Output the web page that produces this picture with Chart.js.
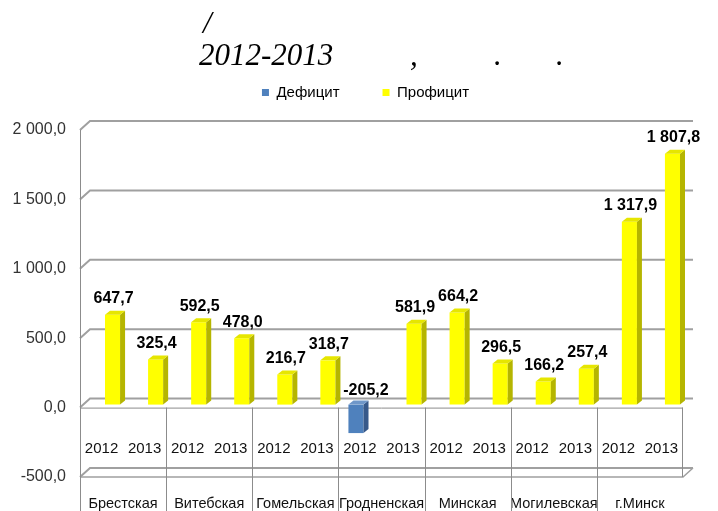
<!DOCTYPE html>
<html>
<head>
<meta charset="utf-8">
<script src="https://cdn.jsdelivr.net/npm/chart.js@4/dist/chart.umd.min.js"></script>
<style>
  html, body { margin: 0; padding: 0; background: #fff; }
  #wrap { width: 718px; height: 511px; }
</style>
</head>
<body>
<div id="wrap"><canvas id="chartCanvas"></canvas></div>
<script>
// data
const regions = ['Брестская', 'Витебская', 'Гомельская', 'Гродненская', 'Минская', 'Могилевская', 'г.Минск'];
const years = ['2012', '2013', '2012', '2013', '2012', '2013', '2012', '2013', '2012', '2013', '2012', '2013', '2012', '2013'];
const deficit = [null, null, null, null, null, null, -205.2, null, null, null, null, null, null, null];
const surplus = [647.7, 325.4, 592.5, 478.0, 216.7, 318.7, null, 581.9, 664.2, 296.5, 166.2, 257.4, 1317.9, 1807.8];
const yMin = -500;
const yMax = 2000;
const yStep = 500;
const titleLine1 = '/';
const titleLine2 = ['2012-2013', ',', '.', '.'];

const blue = '#4f81bd';
const yellow = '#ffff00';
const gridGray = '#a0a0a0';

function fmt(v) {
    let s = Math.abs(v).toFixed(1).split('.');
    let intPart = s[0].replace(/\B(?=(\d{3})+(?!\d))/g, ' ');
    return (v < 0 ? '-' : '') + intPart + ',' + s[1];
}

// per dataset shift so the bars sit a bit inside, like the 3d original
const shifts = [[-4, -3], [11, -3]];

const decor = {
    id: 'decor',
    afterLayout(chart) {
        // legend in the original is centred a little right of the canvas middle
        chart.legend.left += 24;
        chart.legend.right += 24;
    },
    beforeDraw(chart) {
        const ctx = chart.ctx;
        ctx.save();
        ctx.fillStyle = '#000';
        ctx.font = 'italic 31px "Liberation Serif"';
        ctx.textBaseline = 'alphabetic';
        ctx.fillText(titleLine1, 203, 33);
        const xs = [199, 410, 494, 556];
        titleLine2.forEach((t, i) => ctx.fillText(t, xs[i], 65));
        ctx.restore();
    },
    beforeDatasetsDraw(chart) {
        const ctx = chart.ctx;
        const {left, right} = chart.chartArea;
        const y = chart.scales.y;
        const x = chart.scales.x;
        ctx.save();
        ctx.strokeStyle = gridGray;
        ctx.lineWidth = 2;
        for (let v = yMin; v <= yMax; v += yStep) {
            const yf = y.getPixelForValue(v);
            ctx.beginPath();
            ctx.moveTo(left, yf);
            ctx.lineTo(left + 10, yf - 9);
            ctx.lineTo(right + 10, yf - 9);
            ctx.stroke();
        }
        const y0 = y.getPixelForValue(0);
        const yb = y.getPixelForValue(yMin);
        ctx.lineWidth = 1.5;
        ctx.beginPath();
        ctx.moveTo(left, yb);
        ctx.lineTo(right, yb);
        ctx.lineTo(right + 10, yb - 9);
        ctx.stroke();

        ctx.strokeStyle = '#8c8c8c';
        ctx.lineWidth = 1;
        ctx.beginPath();
        ctx.moveTo(left, y0 + 0.5);
        ctx.lineTo(right, y0 + 0.5);
        ctx.moveTo(left + 0.5, y.getPixelForValue(yMax));
        ctx.lineTo(left + 0.5, chart.height);
        for (let i = 1; i < regions.length; i++) {
            const xb = Math.round((x.getPixelForValue(2 * i - 1) + x.getPixelForValue(2 * i)) / 2) + 0.5;
            ctx.moveTo(xb, y0);
            ctx.lineTo(xb, chart.height);
        }
        ctx.moveTo(right - 0.5, y0);
        ctx.lineTo(right - 0.5, yb);
        ctx.stroke();
        ctx.restore();
    },
    beforeDatasetDraw(chart, args) {
        const s = shifts[args.index];
        chart.ctx.save();
        chart.ctx.translate(s[0], s[1]);
    },
    afterDatasetDraw(chart, args) {
        const ctx = chart.ctx;
        const meta = args.meta;
        const side = args.index === 0 ? '#37598a' : '#b5b500';
        const topc = args.index === 0 ? '#6f97c9' : '#e6e600';
        meta.data.forEach((bar, i) => {
            const val = chart.data.datasets[args.index].data[i];
            if (val === null || val === undefined) return;
            const p = bar.getProps(['x', 'y', 'base', 'width'], true);
            const l = p.x - p.width / 2;
            const r = p.x + p.width / 2;
            const t = Math.min(p.y, p.base);
            const b = Math.max(p.y, p.base);
            ctx.fillStyle = side;
            ctx.beginPath();
            ctx.moveTo(r, t);
            ctx.lineTo(r + 5, t - 4);
            ctx.lineTo(r + 5, b - 4);
            ctx.lineTo(r, b);
            ctx.closePath();
            ctx.fill();
            ctx.fillStyle = topc;
            ctx.beginPath();
            ctx.moveTo(l, t);
            ctx.lineTo(l + 5, t - 4);
            ctx.lineTo(r + 5, t - 4);
            ctx.lineTo(r, t);
            ctx.closePath();
            ctx.fill();

            ctx.fillStyle = '#000';
            ctx.font = 'bold 16px "Liberation Sans", sans-serif';
            ctx.textAlign = 'center';
            ctx.textBaseline = 'middle';
            if (val < 0) {
                ctx.fillText(fmt(val), p.x + 10, p.base - 14);
            } else {
                ctx.fillText(fmt(val), p.x + 1, p.y - 16);
            }
        });
        ctx.restore();
    }
};

const chartData = {
    labels: years,
    datasets: [
        {
            label: 'Дефицит',
            data: deficit,
            backgroundColor: blue,
            xAxisID: 'x',
            grouped: false,
            barPercentage: 0.35,
            categoryPercentage: 1
        },
        {
            label: 'Профицит',
            data: surplus,
            backgroundColor: yellow,
            xAxisID: 'x',
            grouped: false,
            barPercentage: 0.35,
            categoryPercentage: 1
        }
    ]
};

const chartOptions = {
    responsive: true,
    maintainAspectRatio: false,
    animation: false,
    layout: { padding: { left: 0, right: 35, top: 42, bottom: 0 } },
    plugins: {
        legend: {
            position: 'top',
            labels: {
                boxWidth: 7,
                boxHeight: 7,
                padding: 43,
                color: '#000',
                font: { family: 'Liberation Sans', size: 15 }
            }
        },
        subtitle: {
            display: true,
            text: '',
            weight: 100,
            font: { size: 10, lineHeight: 1 },
            padding: { top: 0, bottom: 10 }
        },
        tooltip: { enabled: false }
    },
    scales: {
        y: {
            min: yMin,
            max: yMax,
            grid: { display: false },
            border: { display: false },
            ticks: {
                stepSize: yStep,
                padding: 6,
                color: '#333',
                font: { family: 'Liberation Sans', size: 16 },
                callback: (v) => fmt(v)
            },
            afterFit: (scale) => { scale.width = 80; }
        },
        x: {
            type: 'category',
            position: { y: 0 },
            offset: true,
            grid: { display: false },
            border: { display: false },
            ticks: {
                padding: 24,
                autoSkip: false,
                maxRotation: 0,
                color: '#111',
                font: { family: 'Liberation Sans', size: 15 }
            },
            afterFit: (scale) => { scale.height = 0; }
        },
        x2: {
            type: 'category',
            labels: regions,
            position: 'bottom',
            offset: true,
            grid: { display: false },
            border: { display: false },
            ticks: {
                padding: 10,
                autoSkip: false,
                maxRotation: 0,
                color: '#111',
                font: { family: 'Liberation Sans', size: 14.5 }
            },
            afterFit: (scale) => { scale.height = 34; }
        }
    }
};

const canvas = document.getElementById('chartCanvas');
new Chart(canvas, {
    type: 'bar',
    data: chartData,
    options: chartOptions,
    plugins: [decor]
});
</script>
</body>
</html>
